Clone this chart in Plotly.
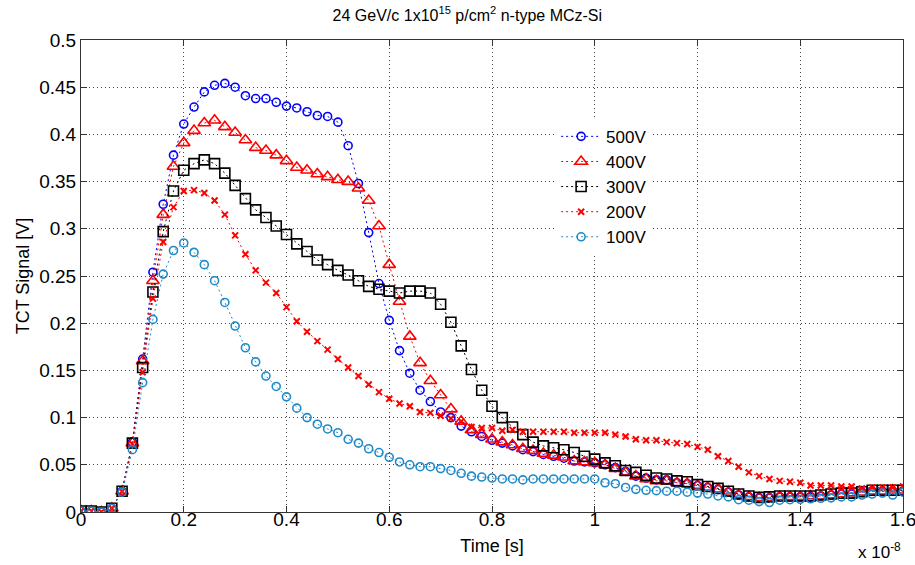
import plotly.graph_objects as go

# time axis in units of 1e-8 s, one sample every 0.2 ns
time_e8 = [round(i * 0.02, 2) for i in range(81)]

v500 = [0.001, 0.001, 0.000, 0.004, 0.022, 0.074, 0.162, 0.254, 0.326, 0.378,
        0.411, 0.429, 0.445, 0.452, 0.454, 0.450, 0.441, 0.438, 0.438, 0.434,
        0.430, 0.428, 0.424, 0.420, 0.419, 0.413, 0.388, 0.348, 0.296, 0.242,
        0.203, 0.171, 0.147, 0.129, 0.117, 0.106, 0.100, 0.091, 0.085, 0.080,
        0.076, 0.073, 0.070, 0.066, 0.064, 0.061, 0.059, 0.057, 0.054, 0.053,
        0.052, 0.050, 0.047, 0.043, 0.038, 0.036, 0.034, 0.034, 0.031, 0.030,
        0.028, 0.026, 0.024, 0.021, 0.018, 0.016, 0.015, 0.015, 0.016, 0.016,
        0.016, 0.016, 0.017, 0.018, 0.019, 0.019, 0.021, 0.022, 0.022, 0.022,
        0.022]

v400 = [0.001, 0.001, 0.000, 0.004, 0.022, 0.073, 0.160, 0.245, 0.315, 0.366,
        0.391, 0.404, 0.412, 0.415, 0.408, 0.402, 0.394, 0.386, 0.383, 0.378,
        0.372, 0.365, 0.362, 0.358, 0.355, 0.352, 0.350, 0.343, 0.330, 0.303,
        0.262, 0.223, 0.186, 0.158, 0.139, 0.124, 0.109, 0.096, 0.087, 0.082,
        0.077, 0.074, 0.071, 0.067, 0.065, 0.062, 0.060, 0.058, 0.054, 0.053,
        0.052, 0.050, 0.046, 0.042, 0.038, 0.035, 0.033, 0.033, 0.031, 0.030,
        0.028, 0.026, 0.024, 0.021, 0.018, 0.016, 0.015, 0.015, 0.016, 0.016,
        0.016, 0.017, 0.017, 0.018, 0.019, 0.020, 0.021, 0.022, 0.022, 0.023,
        0.023]

v300 = [0.001, 0.001, 0.000, 0.004, 0.022, 0.073, 0.153, 0.233, 0.297, 0.340,
        0.362, 0.369, 0.373, 0.369, 0.359, 0.346, 0.332, 0.320, 0.312, 0.303,
        0.294, 0.284, 0.276, 0.267, 0.262, 0.256, 0.251, 0.245, 0.239, 0.236,
        0.234, 0.232, 0.234, 0.234, 0.232, 0.220, 0.201, 0.176, 0.151, 0.129,
        0.112, 0.100, 0.090, 0.082, 0.074, 0.070, 0.068, 0.066, 0.063, 0.059,
        0.056, 0.052, 0.049, 0.044, 0.042, 0.039, 0.036, 0.035, 0.033, 0.032,
        0.029, 0.027, 0.025, 0.022, 0.019, 0.017, 0.0155, 0.016, 0.017, 0.017,
        0.017, 0.017, 0.018, 0.019, 0.020, 0.020, 0.0215, 0.023, 0.023, 0.023,
        0.023]

v200 = [0.001, 0.001, 0.000, 0.004, 0.022, 0.072, 0.148, 0.226, 0.286, 0.323,
        0.340, 0.341, 0.338, 0.330, 0.315, 0.293, 0.273, 0.256, 0.243, 0.232,
        0.217, 0.202, 0.191, 0.181, 0.172, 0.162, 0.153, 0.144, 0.135, 0.127,
        0.120, 0.115, 0.112, 0.106, 0.105, 0.102, 0.099, 0.096, 0.090, 0.089,
        0.089, 0.086, 0.087, 0.085, 0.085, 0.085, 0.085, 0.085, 0.084, 0.084,
        0.084, 0.084, 0.082, 0.080, 0.077, 0.076, 0.076, 0.074, 0.073, 0.072,
        0.069, 0.066, 0.059, 0.054, 0.048, 0.042, 0.038, 0.035, 0.033, 0.032,
        0.031, 0.028, 0.028, 0.028, 0.027, 0.027, 0.025, 0.026, 0.026, 0.026,
        0.027]

v100 = [0.001, 0.001, 0.000, 0.004, 0.021, 0.066, 0.137, 0.204, 0.252, 0.277,
        0.285, 0.275, 0.262, 0.245, 0.222, 0.197, 0.174, 0.159, 0.144, 0.133,
        0.122, 0.110, 0.100, 0.093, 0.088, 0.084, 0.077, 0.073, 0.067, 0.063,
        0.058, 0.053, 0.050, 0.048, 0.048, 0.046, 0.044, 0.041, 0.038, 0.037,
        0.036, 0.035, 0.035, 0.034, 0.035, 0.035, 0.035, 0.035, 0.035, 0.035,
        0.035, 0.031, 0.030, 0.026, 0.024, 0.023, 0.0226, 0.022, 0.022, 0.021,
        0.020, 0.019, 0.017, 0.016, 0.013, 0.0125, 0.011, 0.010, 0.0125, 0.013,
        0.0135, 0.014, 0.0145, 0.015, 0.016, 0.016, 0.018, 0.019, 0.020, 0.018,
        0.021]

series = [
    ("500V", v500, "#0000ff", "circle-open", 8),
    ("400V", v400, "#ff0000", "triangle-up-open", 11),
    ("300V", v300, "#000000", "square-open", 10),
    ("200V", v200, "#ff0000", "x-thin", 6),
    ("100V", v100, "#1f8ac8", "circle-open", 8),
]

FONT = "Liberation Sans, Arial, sans-serif"

fig = go.Figure()
for name, vals, color, symbol, size in series:
    fig.add_trace(go.Scatter(
        x=time_e8, y=vals, name=name, mode="lines+markers",
        line=dict(color=color, width=1, dash="2px,3px"),
        marker=dict(symbol=symbol, size=size, color=color,
                    line=dict(color=color, width=2 if symbol == "x-thin" else 1.6)),
    ))

axis_common = dict(
    showline=True, linecolor="#333333", linewidth=1, mirror="ticks",
    ticks="inside", ticklen=6, tickcolor="#333333",
    showgrid=True, gridcolor="#444444", gridwidth=1, griddash="1px,3px",
    zeroline=False, tickfont=dict(size=19, color="black"), automargin=False,
    ticklabeloverflow="allow",
)

fig.update_layout(
    width=915, height=565,
    margin=dict(l=81, r=12, t=40, b=53),
    paper_bgcolor="white", plot_bgcolor="white",
    font=dict(family=FONT, color="black"),
    title=dict(text="24 GeV/c 1x10<sup>15</sup> p/cm<sup>2</sup> n-type MCz-Si",
               xref="paper", x=0.47, xanchor="center",
               yref="container", y=0.973, yanchor="middle",
               font=dict(size=16, family=FONT)),
    xaxis=dict(range=[0, 1.6], tickvals=[0, 0.2, 0.4, 0.6, 0.8, 1, 1.2, 1.4, 1.6],
               title=dict(text="Time [s]", font=dict(size=18), standoff=10),
               ticklabelstandoff=-10, **axis_common),
    yaxis=dict(range=[0, 0.5], dtick=0.05, tickformat="~g",
               title=dict(text="TCT Signal [V]", font=dict(size=18), standoff=4),
               **axis_common),
    legend=dict(x=0.578, y=0.833, xanchor="left", yanchor="top",
                bgcolor="white", borderwidth=0, font=dict(size=17),
                tracegroupgap=0, itemwidth=40),
    showlegend=True,
)

fig.add_annotation(text="x 10<sup>-8</sup>", xref="paper", yref="paper",
                   x=1.0, y=-0.082, xanchor="right", yanchor="middle",
                   showarrow=False, font=dict(size=17))

fig.write_html("out.html", config={"displayModeBar": False},
               post_script="document.body.style.margin='0';")
